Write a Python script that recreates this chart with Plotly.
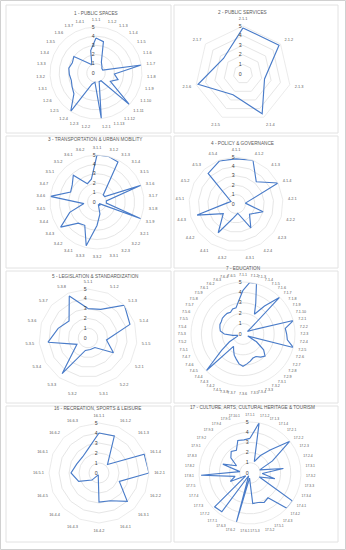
import plotly.graph_objects as go

W, H = 346, 550
LINE = "#4a7cc9"
GRID = "#e6e6e6"
TXT = "#595959"
FONT = "Liberation Sans"

# ---------------- data ----------------
p1_labels = ["1.1.1", "1.1.2", "1.1.3", "1.1.4", "1.1.5", "1.1.6", "1.1.7", "1.1.8", "1.1.9",
             "1.1.10", "1.1.11", "1.1.12", "1.1.13", "1.2.1", "1.2.2", "1.2.3", "1.2.4", "1.2.5",
             "1.2.6", "1.3.1", "1.3.2", "1.3.3", "1.3.4", "1.3.5", "1.3.6", "1.3.7", "1.4.1"]
p1_values = [3.8, 3.5, 1.3, 1.0, 0.8, 0.8, 5.0, 2.0, 2.5, 1.8, 5.0, 1.0, 1.0, 5.0, 1.0, 1.3,
             5.0, 3.3, 3.0, 2.8, 2.9, 3.0, 2.8, 3.0, 1.5, 1.0, 2.5]

p2_labels = ["2.1.1", "2.1.2", "2.1.3", "2.1.4", "2.1.5", "2.1.6", "2.1.7"]
p2_values = [4.8, 4.8, 2.3, 4.6, 2.4, 4.8, 2.6]

p3_labels = ["3.1.1", "3.1.2", "3.1.3", "3.1.4", "3.1.5", "3.1.6", "3.1.7", "3.1.8", "3.1.9",
             "3.2.1", "3.2.2", "3.2.3", "3.3.1", "3.3.2", "3.3.3", "3.4.1", "3.4.2", "3.4.3",
             "3.4.4", "3.4.5", "3.4.6", "3.4.7", "3.5.1", "3.5.2", "3.6.1", "3.6.2"]
p3_values = [5.0, 5.0, 4.8, 1.0, 1.0, 5.0, 1.0, 1.0, 5.0, 0.3, 0.5, 0.3, 1.3, 2.5, 4.8, 2.8,
             3.0, 4.7, 3.1, 1.4, 5.0, 3.0, 3.2, 3.8, 2.2, 2.5]

p4_labels = ["4.1.1", "4.1.2", "4.1.3", "4.1.4", "4.2.1", "4.2.2", "4.2.3", "4.2.4", "4.3.1",
             "4.3.2", "4.4.1", "4.4.2", "4.4.3", "4.5.1", "4.5.2", "4.5.3", "4.5.4"]
p4_values = [4.8, 5.0, 3.2, 5.0, 1.0, 3.0, 1.8, 3.0, 1.0, 1.5, 3.6, 1.7, 4.3, 1.0, 0.6, 4.4, 4.9]

p5_labels = ["5.1.1", "5.1.2", "5.1.3", "5.1.4", "5.1.5", "5.2.1", "5.2.2", "5.3.1", "5.3.2",
             "5.3.3", "5.3.4", "5.3.5", "5.3.6", "5.3.7", "5.3.8"]
p5_values = [3.0, 3.2, 5.0, 4.5, 1.9, 3.0, 1.2, 1.2, 1.3, 4.5, 1.3, 4.1, 3.2, 2.6, 4.7]

p7_labels = ["7.1.1", "7.1.2", "7.1.3", "7.1.4", "7.1.5", "7.1.6", "7.1.7", "7.1.8", "7.1.9",
             "7.1.10", "7.2.1", "7.2.2", "7.2.3", "7.2.4", "7.2.5", "7.2.6", "7.2.7", "7.2.8",
             "7.2.9", "7.3.1", "7.3.2", "7.3.3", "7.3.4", "7.3.5", "7.3.6", "7.3.7", "7.3.8",
             "7.4.1", "7.4.2", "7.4.3", "7.4.4", "7.4.5", "7.4.6", "7.4.7", "7.5.1", "7.5.2",
             "7.5.3", "7.5.4", "7.5.5", "7.5.6", "7.5.7", "7.5.8", "7.5.9", "7.6.1", "7.6.2",
             "7.6.3", "7.6.4", "7.6.5"]
p7_values = [4.2, 5.0, 5.0, 3.2, 2.2, 3.4, 5.0, 1.0, 0.5, 1.0, 5.0, 4.1, 4.2, 4.3, 5.0, 0.5,
             1.5, 2.5, 3.0, 2.8, 2.5, 2.5, 2.7, 2.9, 3.1, 2.9, 2.5, 2.2, 1.8, 1.5, 5.0, 2.6,
             1.5, 0.6, 0.5, 1.0, 1.8, 2.2, 2.3, 2.4, 2.4, 2.5, 2.5, 2.5, 2.4, 2.6, 2.6, 3.2]

p16_labels = ["16.1.1", "16.1.2", "16.1.3", "16.1.4", "16.2.1", "16.2.2", "16.3.1", "16.4.1",
              "16.4.2", "16.4.3", "16.4.4", "16.4.5", "16.5.1", "16.6.1", "16.6.2", "16.6.3"]
p16_values = [4.0, 4.0, 1.2, 4.9, 5.0, 2.2, 4.0, 3.0, 2.9, 0.2, 1.0, 2.2, 2.8, 2.4, 2.3, 2.7]

p17_labels = ["17.1.1", "17.1.2", "17.1.3", "17.1.4", "17.2.1", "17.2.2", "17.2.3", "17.2.4",
              "17.3.1", "17.3.2", "17.3.3", "17.3.4", "17.4.1", "17.4.2", "17.4.3", "17.5.1",
              "17.5.2", "17.5.3", "17.6.1", "17.6.2", "17.6.3", "17.7.1", "17.7.2", "17.7.3",
              "17.7.4", "17.7.5", "17.8.1", "17.8.2", "17.8.3", "17.9.1", "17.9.2", "17.9.3",
              "17.9.4", "17.9.5", "17.10.1"]
p17_values = [3.4, 5.0, 1.2, 2.0, 3.0, 5.0, 2.5, 1.0, 3.3, 1.2, 2.5, 1.0, 5.0, 5.0, 3.0, 3.2,
              3.0, 3.0, 0.5, 5.0, 0.3, 4.7, 4.8, 0.5, 2.1, 1.5, 4.8, 1.0, 2.8, 1.5, 2.4, 2.8,
              2.6, 3.4, 3.3]

radial_ticks = [0, 1, 2, 3, 4, 5]

titles = ["1 - PUBLIC SPACES", "2 - PUBLIC SERVICES", "3 - TRANSPORTATION & URBAN MOBILITY",
          "4 - POLICY & GOVERNANCE", "5 - LEGISLATION & STANDARDIZATION", "7 - EDUCATION",
          "16 - RECREATION, SPORTS & LEISURE",
          "17 - CULTURE, ARTS, CULTURAL HERITAGE & TOURISM"]

# ---------------- layout (pixel geometry) ----------------
series = [(p1_labels, p1_values), (p2_labels, p2_values), (p3_labels, p3_values),
          (p4_labels, p4_values), (p5_labels, p5_values), (p7_labels, p7_values),
          (p16_labels, p16_values), (p17_labels, p17_values)]
# centre x, centre y, radius, title x, title y, category label font size
geom = [(96, 73, 46, 96, 13.5, 3.9), (243, 74, 48, 242, 12, 3.9),
        (97, 202, 47, 96, 140, 3.9), (236, 204, 47, 243, 143, 3.9),
        (88, 338, 49, 95, 276, 3.9), (243, 334, 52, 243, 268.5, 3.7),
        (99, 473, 50, 97, 408, 3.9), (250, 473, 51, 252, 407, 3.4)]

cards = [(6, 5, 171, 133), (174, 5, 338, 133),
         (6, 136, 171, 268), (174, 136, 338, 268),
         (6, 271, 171, 403), (174, 271, 338, 403),
         (6, 406, 171, 542), (174, 406, 338, 542)]

fig = go.Figure()
layout = {}
annotations = []
shapes = [dict(type="rect", xref="paper", yref="paper", layer="below",
               x0=0.5 / W, x1=1 - 0.5 / W, y0=0.5 / H, y1=1 - 0.5 / H,
               line=dict(color="#d0d0d0", width=1), fillcolor="white")]

for (x0, y0, x1, y1) in cards:
    shapes.append(dict(type="rect", xref="paper", yref="paper", layer="below",
                       x0=x0 / W, x1=x1 / W, y0=1 - y1 / H, y1=1 - y0 / H,
                       line=dict(color="#e2e2e2", width=1), fillcolor="white"))

for i, ((labels, values), (cx, cy, R, tx, ty, fs), title) in enumerate(zip(series, geom, titles), start=1):
    pid = "polar" if i == 1 else f"polar{i}"
    fig.add_trace(go.Scatterpolar(
        r=list(values) + [values[0]], theta=list(labels) + [labels[0]],
        mode="lines", line=dict(color=LINE, width=1.15),
        subplot=pid, showlegend=False, hoverinfo="skip"))
    layout[pid] = dict(
        domain=dict(x=[(cx - R) / W, (cx + R) / W], y=[1 - (cy + R) / H, 1 - (cy - R) / H]),
        bgcolor="rgba(0,0,0,0)", gridshape="linear",
        angularaxis=dict(direction="clockwise", rotation=90, type="category",
                         categoryorder="array", categoryarray=labels,
                         showgrid=False, showline=True, linecolor=GRID, linewidth=0.8,
                         ticks="outside", ticklen=4, tickcolor="rgba(0,0,0,0)",
                         tickfont=dict(size=fs, color=TXT, family=FONT)),
        radialaxis=dict(range=[0, 5], tickmode="array", tickvals=radial_ticks,
                        ticktext=[str(t) for t in radial_ticks],
                        showline=False, ticks="", showticklabels=True,
                        gridcolor=GRID, gridwidth=0.8, angle=90, tickangle=90,
                        side="counterclockwise",
                        tickfont=dict(size=5.2, color="#404040", family=FONT)))
    annotations.append(dict(text=title, x=tx / W, y=1 - ty / H, xref="paper", yref="paper",
                            showarrow=False, xanchor="center", yanchor="middle",
                            font=dict(size=4.7, color=TXT, family=FONT)))

fig.update_layout(width=W, height=H, autosize=False, margin=dict(l=0, r=0, t=0, b=0),
                  paper_bgcolor="white", plot_bgcolor="white",
                  annotations=annotations, shapes=shapes, **layout)
fig.write_html("out.html", config={"displayModeBar": False},
               post_script="document.body.style.margin='0';")
